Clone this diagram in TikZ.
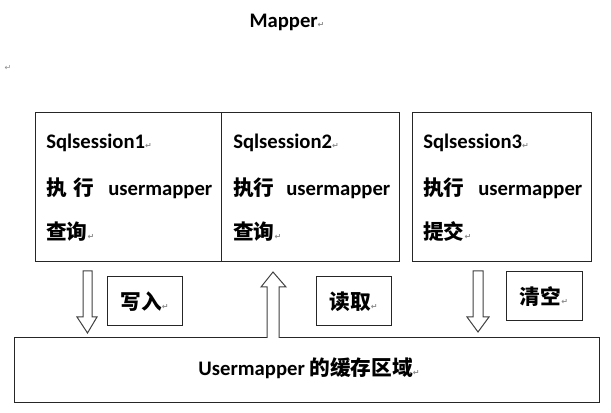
\documentclass[tikz,border=0pt]{standalone}
\usepackage{fontspec}
\setmainfont{Carlito}
\newfontfamily\cjk{Noto Sans CJK SC}
\newfontfamily\symfont{DejaVu Sans}
\newcommand{\retmark}{{\symfont\fontsize{6}{6}\selectfont\color{black!45}↵}}

\begin{document}
\begin{tikzpicture}[x=0.75pt,y=-0.75pt]
\tikzset{
  box/.style={draw=black!85,line width=0.75pt,inner sep=0pt},
  txt/.style={anchor=base west,inner sep=0pt,font=\fontsize{15.5}{18}\selectfont\bfseries},
  lbl/.style={inner sep=0pt,font=\fontsize{15.5}{18}\selectfont\bfseries},
  blockarrow/.style={draw=black!75,line width=0.75pt,fill=white}
}
\useasboundingbox (0,0) rectangle (611,413);

\node[lbl] (title) at (287,22) {Mapper\retmark};
\node[inner sep=0pt] (blank) at (8,68) {\retmark};

\node[box,minimum width=139.5pt,minimum height=111.75pt] (S1) at (128,187.5) {};
\node[box,minimum width=133.5pt,minimum height=111.75pt] (S2) at (310,187.5) {};
\node[box,minimum width=134.25pt,minimum height=111.75pt] (S3) at (501.5,187.5) {};

\node[txt] (S1a) at (46,149) {Sqlsession1\retmark};
\node[txt] (S1b) at (46,196) {\cjk 执\hspace{5pt}行};
\node[txt] (S1c) at (108,196) {usermapper};
\node[txt] (S1d) at (46,240) {{\cjk 查询}\retmark};

\node[txt] (S2a) at (233,149) {Sqlsession2\retmark};
\node[txt] (S2b) at (233,196) {\cjk 执行};
\node[txt] (S2c) at (286,196) {usermapper};
\node[txt] (S2d) at (233,240) {{\cjk 查询}\retmark};

\node[txt] (S3a) at (423,149) {Sqlsession3\retmark};
\node[txt] (S3b) at (423,196) {\cjk 执行};
\node[txt] (S3c) at (478,196) {usermapper};
\node[txt] (S3d) at (423,240) {{\cjk 提交}\retmark};

\node[box,minimum width=438.75pt,minimum height=48.75pt] (cache) at (306.5,370.5) {};
\node[lbl] (cachetxt) at (309,368) {Usermapper {\cjk 的缓存区域}\retmark};

\node[box,lbl,minimum width=56.25pt,minimum height=36.75pt] (write) at (144.5,301.5) {{\cjk 写入}\retmark};
\node[box,lbl,minimum width=56.25pt,minimum height=36.75pt] (read) at (353.5,301.5) {{\cjk 读取}\retmark};
\node[box,lbl,minimum width=57pt,minimum height=36.75pt] (clear) at (544,296.5) {{\cjk 清空}\retmark};

% write down
\draw[blockarrow] (83,271) -- (92,271) -- (92,317) -- (97,317) -- (87.5,333) -- (77,317) -- (83,317) -- cycle;
% read up
\draw[blockarrow] (267,338) -- (267,287) -- (261,287) -- (273,272) -- (286,287) -- (279,287) -- (279,338);
% clear down
\draw[blockarrow] (473,271) -- (483,271) -- (483,317) -- (489,317) -- (478,332) -- (467,317) -- (473,317) -- cycle;
\end{tikzpicture}
\end{document}
